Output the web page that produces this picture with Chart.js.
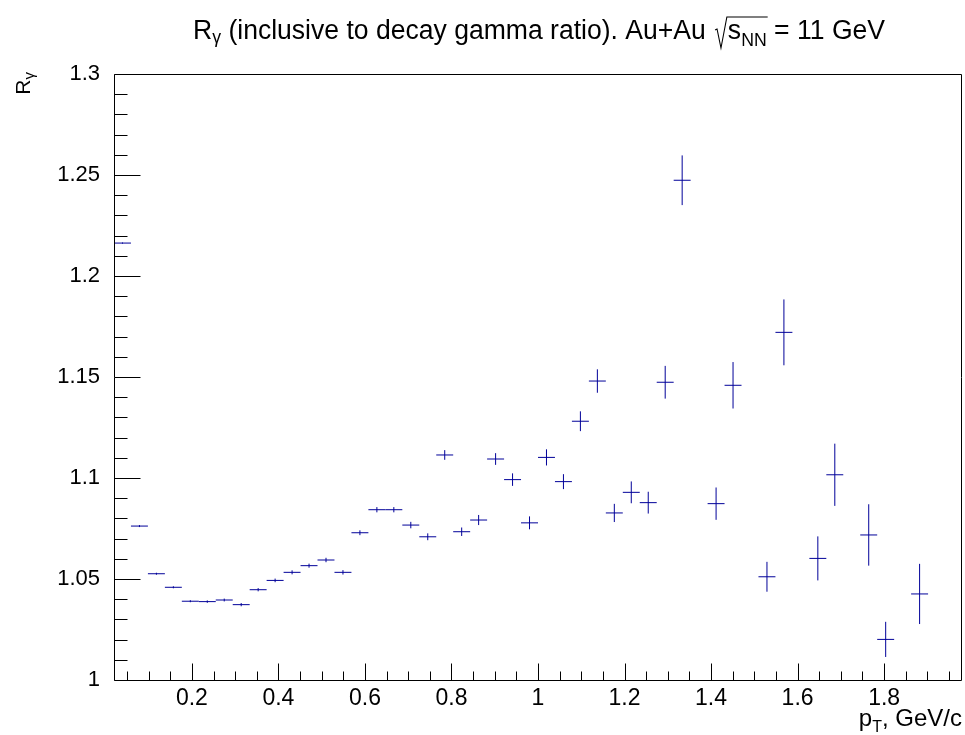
<!DOCTYPE html>
<html>
<head>
<meta charset="utf-8">
<script src="https://cdn.jsdelivr.net/npm/chart.js@4.4.1/dist/chart.umd.min.js"></script>
<style>
html, body { margin: 0; padding: 0; background: #fff; }
</style>
</head>
<body>
<canvas id="chart" width="965" height="735"></canvas>
<script>
// pT bin centres (GeV/c), 50 bins of 0.0392 between 0.02 and 1.98; empty bins left out
const ptBins = [
    0.0396, 0.0788, 0.1180, 0.1572, 0.1964, 0.2356, 0.2748, 0.3140, 0.3532, 0.3924,
    0.4316, 0.4708, 0.5100, 0.5492, 0.5884, 0.6276, 0.6668, 0.7060, 0.7452, 0.7844,
    0.8236, 0.8628, 0.9020, 0.9412, 0.9804, 1.0196, 1.0588, 1.0980, 1.1372, 1.1764,
    1.2156, 1.2548, 1.2940, 1.3332, 1.4116, 1.4508, 1.5292, 1.5684, 1.6468, 1.6860,
    1.7644, 1.8036, 1.8820
];
const binHalfWidth = 0.0196;

// R_gamma = inclusive / decay gamma
const ratioValues = [
    1.2163, 1.0762, 1.0526, 1.0459, 1.0390, 1.0388, 1.0396, 1.0373, 1.0447, 1.0493,
    1.0533, 1.0566, 1.0594, 1.0533, 1.0729, 1.0843, 1.0843, 1.0767, 1.0709, 1.1114,
    1.0734, 1.0792, 1.1094, 1.0992, 1.0778, 1.1102, 1.0982, 1.1281, 1.1480, 1.0827,
    1.0929, 1.0878, 1.1474, 1.2474, 1.0873, 1.1459, 1.0511, 1.1721, 1.0602, 1.1016,
    1.0718, 1.0201, 1.0426
];
const ratioErrors = [
    0.0003, 0.0005, 0.0005, 0.0005, 0.0005, 0.0006, 0.0007, 0.0008, 0.0008, 0.0009,
    0.0010, 0.0010, 0.0011, 0.0011, 0.0012, 0.0013, 0.0013, 0.0016, 0.0017, 0.0024,
    0.0021, 0.0025, 0.0029, 0.0031, 0.0032, 0.0040, 0.0037, 0.0049, 0.0058, 0.0045,
    0.0054, 0.0054, 0.0081, 0.0123, 0.0080, 0.0115, 0.0074, 0.0163, 0.0109, 0.0154,
    0.0152, 0.0087, 0.0149
];

// axes
const xRange = [0.02, 1.98];
const yRange = [1.0, 1.3];
const xMajorTicks = [0.2, 0.4, 0.6, 0.8, 1.0, 1.2, 1.4, 1.6, 1.8];
const xMinorStep = 0.05;
const yMajorTicks = [1.0, 1.05, 1.1, 1.15, 1.2, 1.25, 1.3];
const yMinorStep = 0.01;

const LABEL_FONT = '"Liberation Sans", Arial, sans-serif';
const MARK_COLOR = '#000099';

// error bars as broken line segments (null y splits the line)
const hBars = [], vBars = [];
ptBins.forEach((x, i) => {
    const v = ratioValues[i], e = ratioErrors[i];
    hBars.push({ x: x - binHalfWidth, y: v }, { x: x + binHalfWidth, y: v }, { x: x, y: null });
    vBars.push({ x: x, y: v - e }, { x: x, y: v + e }, { x: x, y: null });
});

const fmt = v => String(Number(v.toFixed(2)));

function minorTicks(lo, hi, step) {
    const out = [];
    for (let v = Math.ceil(lo / step) * step; v <= hi + 1e-9; v += step) out.push(v);
    return out;
}

// ROOT style frame with inward ticks
const rootFrame = {
    id: 'rootFrame',
    afterDatasetsDraw(chart) {
        const { ctx, chartArea: { left, right, top, bottom }, scales: { x, y } } = chart;
        const L = Math.floor(left) + 0.5, R = Math.floor(right) - 0.5;
        const T = Math.floor(top) + 0.5, B = Math.floor(bottom) + 0.5;
        ctx.save();
        ctx.strokeStyle = '#000';
        ctx.lineWidth = 1;
        ctx.beginPath();
        ctx.rect(L, T, R - L, B - T);
        // y ticks
        minorTicks(yRange[0], yRange[1], yMinorStep).forEach(v => {
            const py = Math.round(y.getPixelForValue(v)) + 0.5;
            const major = yMajorTicks.some(m => Math.abs(m - v) < 1e-6);
            ctx.moveTo(L, py);
            ctx.lineTo(L + (major ? 26 : 13), py);
        });
        // x ticks
        minorTicks(xRange[0], xRange[1], xMinorStep).forEach(v => {
            const px = Math.round(x.getPixelForValue(v)) + 0.5;
            const major = xMajorTicks.some(m => Math.abs(m - v) < 1e-6);
            ctx.moveTo(px, B);
            ctx.lineTo(px, B - (major ? 17 : 9));
        });
        ctx.stroke();
        ctx.restore();
    }
};

// text pieces (normal + subscripts) laid along one baseline
function pieceWidth(ctx, pieces) {
    let w = 0;
    pieces.forEach(p => {
        if (p.radical) { w += p.w; return; }
        ctx.font = p.size + 'px ' + LABEL_FONT;
        w += ctx.measureText(p.text).width;
    });
    return w;
}
function drawPieces(ctx, pieces, x0, base) {
    let cx = x0;
    const spans = [];
    pieces.forEach(p => {
        if (p.radical) {
            spans.push({ radical: true, x: cx, w: p.w });
            cx += p.w;
            return;
        }
        ctx.font = p.size + 'px ' + LABEL_FONT;
        const w = ctx.measureText(p.text).width;
        ctx.fillText(p.text, cx, base + (p.dy || 0));
        if (p.over) spans.push({ over: true, x: cx, w: w });
        cx += w;
    });
    return spans;
}

const titles = {
    id: 'titles',
    afterDraw(chart) {
        const { ctx } = chart;
        ctx.save();
        ctx.fillStyle = '#000';
        ctx.strokeStyle = '#000';
        ctx.textAlign = 'left';
        ctx.textBaseline = 'alphabetic';

        // main title, narrow face: squeeze horizontally to its width in the picture
        const tp = [
            { text: 'R', size: 27 },
            { text: 'γ', size: 18, dy: 4 },
            { text: ' (inclusive to decay gamma ratio). Au+Au ', size: 27 },
            { radical: true, w: 15 },
            { text: 's', size: 27, over: true },
            { text: 'NN', size: 18, dy: 7, over: true },
            { text: ' = 11 GeV', size: 27 }
        ];
        const tw = pieceWidth(ctx, tp);
        const base = 39;
        ctx.save();
        ctx.translate(193, 0);
        ctx.scale(692 / tw, 1);
        const spans = drawPieces(ctx, tp, 0, base);
        const rad = spans.find(s => s.radical);
        const last = spans[spans.length - 1];
        const topY = base - 22;
        ctx.lineWidth = 1.1;
        ctx.beginPath();
        ctx.moveTo(rad.x + 2, base - 9);
        ctx.lineTo(rad.x + 4, base - 10);
        ctx.lineTo(rad.x + 8, base + 9);
        ctx.lineTo(rad.x + 14, topY);
        ctx.lineTo(last.x + last.w + 1, topY);
        ctx.stroke();
        ctx.restore();

        // x axis title, right aligned to the frame
        const xp = [
            { text: 'p', size: 24 },
            { text: 'T', size: 16, dy: 6 },
            { text: ', GeV/c', size: 24 }
        ];
        const xw = pieceWidth(ctx, xp);
        drawPieces(ctx, xp, chart.chartArea.right - xw, 726);

        // y axis title, rotated, ending at the top of the frame
        const yp = [
            { text: 'R', size: 21 },
            { text: 'γ', size: 15, dy: 4 }
        ];
        const yw = pieceWidth(ctx, yp);
        ctx.translate(30, 72);
        ctx.rotate(-Math.PI / 2);
        drawPieces(ctx, yp, -yw, 0);
        ctx.restore();
    }
};

const lineStyle = {
    showLine: true,
    spanGaps: false,
    pointRadius: 0,
    pointHoverRadius: 0,
    borderColor: MARK_COLOR,
    backgroundColor: MARK_COLOR,
    borderWidth: 1,
    fill: false
};

const config = {
    type: 'scatter',
    data: {
        datasets: [
            Object.assign({ label: 'bin width', data: hBars }, lineStyle),
            Object.assign({ label: 'stat. error', data: vBars }, lineStyle)
        ]
    },
    options: {
        responsive: false,
        animation: false,
        devicePixelRatio: 1,
        layout: { padding: { top: 74, right: 3, left: 0, bottom: 0 } },
        scales: {
            x: {
                type: 'linear',
                min: xRange[0],
                max: xRange[1],
                afterBuildTicks: s => { s.ticks = xMajorTicks.map(v => ({ value: v })); },
                afterFit: s => { s.height = 55; },
                grid: { display: false },
                border: { display: false },
                ticks: {
                    callback: v => fmt(v),
                    autoSkip: false,
                    maxRotation: 0,
                    padding: -3,
                    color: '#000',
                    font: { family: LABEL_FONT, size: 23 }
                }
            },
            y: {
                type: 'linear',
                min: yRange[0],
                max: yRange[1],
                afterBuildTicks: s => { s.ticks = yMajorTicks.map(v => ({ value: v })); },
                afterFit: s => { s.width = 114; },
                grid: { display: false },
                border: { display: false },
                ticks: {
                    callback: v => fmt(v),
                    autoSkip: false,
                    padding: 6,
                    color: '#000',
                    font: { family: LABEL_FONT, size: 22 }
                }
            }
        },
        plugins: {
            legend: { display: false },
            tooltip: { enabled: false },
            title: { display: false }
        }
    },
    plugins: [rootFrame, titles]
};

const myChart = new Chart(document.getElementById('chart'), config);
</script>
</body>
</html>
